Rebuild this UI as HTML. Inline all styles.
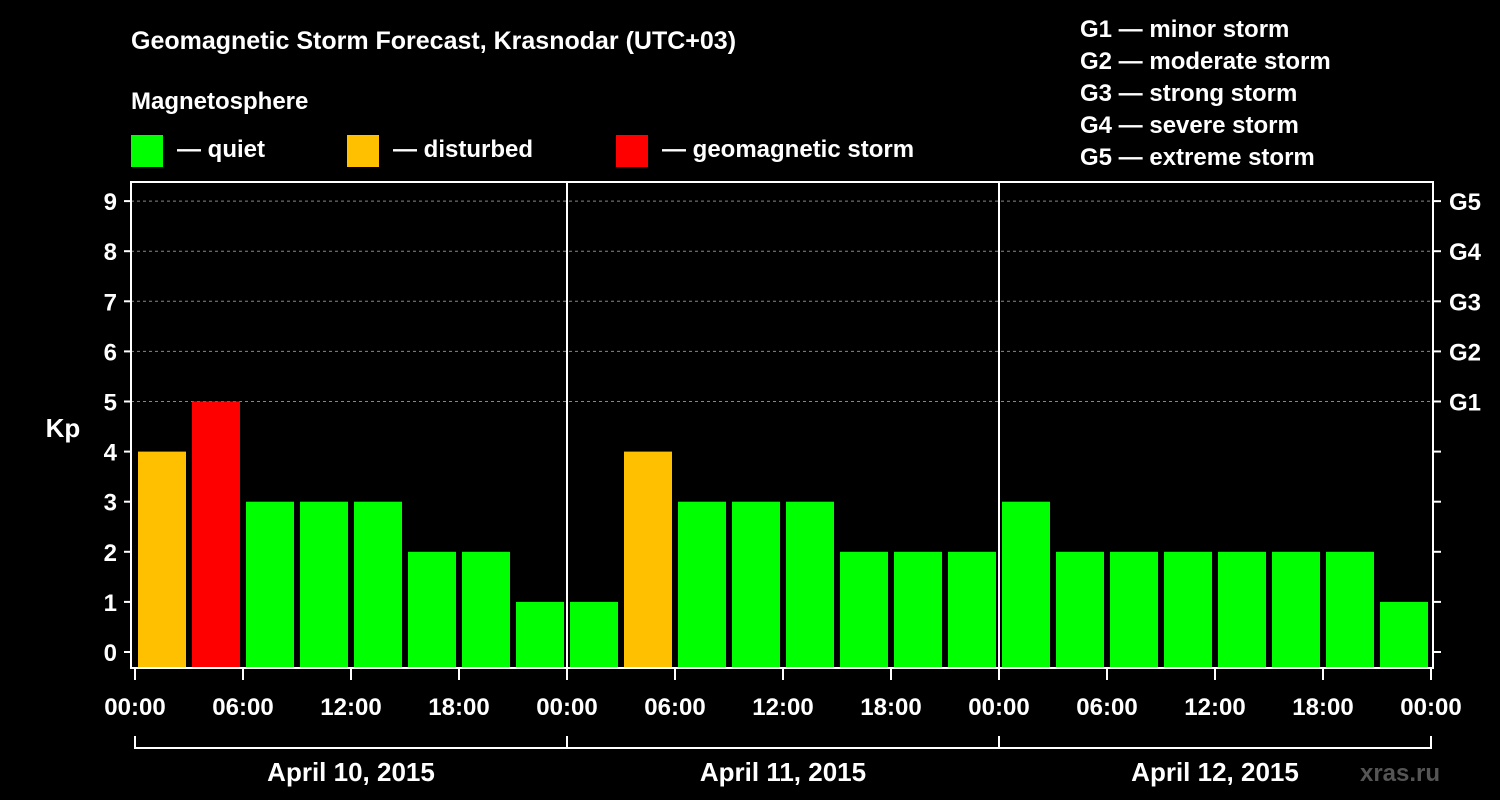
<!DOCTYPE html>
<html><head><meta charset="utf-8"><style>
html,body{margin:0;padding:0;background:#000;}
svg{display:block;font-family:"Liberation Sans",Arial,sans-serif;font-weight:bold;}
</style></head><body>
<svg id="chart" width="1500" height="800" viewBox="0 0 1500 800">
<text x="131" y="49" fill="#fff" font-size="25">Geomagnetic Storm Forecast, Krasnodar (UTC+03)</text>
<text x="131" y="109" fill="#fff" font-size="24">Magnetosphere</text>
<g><rect x="131" y="135" width="32" height="32" fill="#00ff00"/><text x="177" y="157" fill="#fff" font-size="24">— quiet</text></g>
<g><rect x="347" y="135" width="32" height="32" fill="#ffc000"/><text x="393" y="157" fill="#fff" font-size="24">— disturbed</text></g>
<g><rect x="616" y="135" width="32" height="32" fill="#ff0000"/><text x="662" y="157" fill="#fff" font-size="24">— geomagnetic storm</text></g>
<g fill="#fff" font-size="24">
<text x="1080" y="37">G1 — minor storm</text>
<text x="1080" y="69">G2 — moderate storm</text>
<text x="1080" y="101">G3 — strong storm</text>
<text x="1080" y="133">G4 — severe storm</text>
<text x="1080" y="165">G5 — extreme storm</text>
</g>
<text x="63" y="437" fill="#fff" font-size="26" text-anchor="middle">Kp</text>
<text x="1400" y="781" fill="#555" font-size="24" text-anchor="middle">xras.ru</text>
<g id="plot"></g>
</svg>
<script>
const days = ["April 10, 2015","April 11, 2015","April 12, 2015"];
const kpValues = [4,5,3,3,3,2,2,1, 1,4,3,3,3,2,2,2, 3,2,2,2,2,2,2,1];
const xTickLabels = ["00:00","06:00","12:00","18:00","00:00","06:00","12:00","18:00","00:00","06:00","12:00","18:00","00:00"];
const yTicks = [0,1,2,3,4,5,6,7,8,9];
const gLabels = ["G1","G2","G3","G4","G5"];

const NS="http://www.w3.org/2000/svg";
const plot=document.getElementById('plot');
const L=131,R=1433,T=182,B=668,X0=135,X1=1431;
const nBars=kpValues.length;
const xScale=i=>X0+(X1-X0)*i/nBars;
const yScale=v=>652-50.1*v;
function mk(tag,attrs){const e=document.createElementNS(NS,tag);for(const k in attrs)e.setAttribute(k,attrs[k]);plot.appendChild(e);return e;}
// grid
for(let v=5;v<=9;v++){
  const g=mk('line',{x1:L,x2:R,y1:yScale(v),y2:yScale(v),stroke:'#888','stroke-dasharray':'3,3','stroke-width':1});
  
  
}
// bars
kpValues.forEach((v,i)=>{
  const bw=(X1-X0)/nBars;
  const col=v>=5?'#ff0000':(v>=4?'#ffc000':'#00ff00');
  const r=mk('rect',{x:xScale(i)+3,y:yScale(v),width:bw-6,height:B-yScale(v),fill:col});
  
  
});
// frame
const fr=mk('rect',{x:L,y:T,width:R-L,height:B-T,fill:'none',stroke:'#fff','stroke-width':2});


const perDay=nBars/days.length;
for(let d=1;d<days.length;d++){
  const x=xScale(d*perDay);
  const s=mk('line',{x1:x,x2:x,y1:T,y2:B,stroke:'#fff','stroke-width':2});
  
  
}
// y ticks
yTicks.forEach(v=>{
  const y=yScale(v);
  mk('line',{x1:L-7,x2:L,y1:y,y2:y,stroke:'#fff','stroke-width':2});
  mk('line',{x1:R,x2:R+8,y1:y,y2:y,stroke:'#fff','stroke-width':2});
  const t=mk('text',{x:117,y:y+9,fill:'#fff','font-size':24,'text-anchor':'end'});
  t.textContent=v;
  
  
});
gLabels.forEach((g,i)=>{
  const t=mk('text',{x:1449,y:yScale(5+i)+9,fill:'#fff','font-size':24});
  t.textContent=g;
  
  
});
// x ticks
const step=nBars/(xTickLabels.length-1);
xTickLabels.forEach((lab,i)=>{
  const x=xScale(i*step);
  mk('line',{x1:x,x2:x,y1:B,y2:B+12,stroke:'#fff','stroke-width':2});
  const t=mk('text',{x:x,y:715,fill:'#fff','font-size':24,'text-anchor':'middle'});
  t.textContent=lab;
  
  
});
// date bracket
const br=mk('line',{x1:X0,x2:X1,y1:748,y2:748,stroke:'#fff','stroke-width':2});


for(let d=0;d<=days.length;d++){
  const x=xScale(d*perDay);
  mk('line',{x1:x,x2:x,y1:736,y2:749,stroke:'#fff','stroke-width':2});
}
days.forEach((dl,d)=>{
  const t=mk('text',{x:(xScale(d*perDay)+xScale((d+1)*perDay))/2,y:781,fill:'#fff','font-size':26,'text-anchor':'middle'});
  t.textContent=dl;
  
  
});
</script>
</body></html>
